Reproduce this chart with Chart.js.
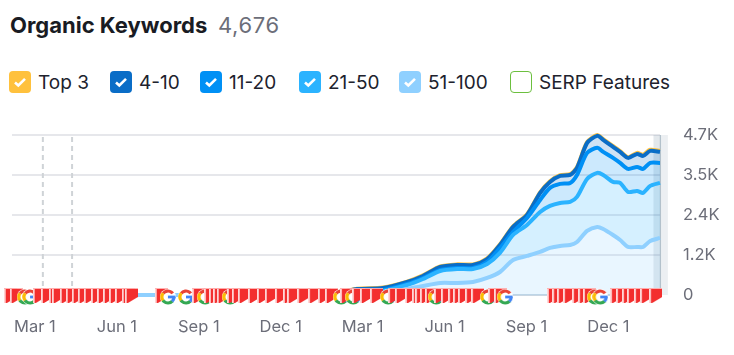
<!DOCTYPE html>
<html>
<head>
<meta charset="utf-8">
<title>Organic Keywords</title>
<script src="https://cdn.jsdelivr.net/npm/chart.js@4"></script>
<style>
    html, body { margin: 0; padding: 0; background: #fff; overflow: hidden; }
    body { width: 734px; height: 355px; position: relative; font-family: Inter, sans-serif; }
    canvas { position: absolute; left: 0; top: 0; }
    .titulo { position: absolute; left: 10px; top: 12px; font-size: 22px; line-height: 26px; font-weight: 700; color: #191b23; }
    .total { position: absolute; left: 218px; top: 12px; font-size: 22px; line-height: 26px; color: #6c6e79; letter-spacing: .6px; }
    .item { position: absolute; top: 71px; height: 22px; line-height: 24px; font-size: 19px; color: #20222d; white-space: nowrap; }
    .caixa { position: absolute; left: 0; top: 0; width: 22px; height: 22px; border-radius: 4px; box-sizing: border-box; }
    .caixa svg { position: absolute; left: 4px; top: 5px; }
    .item span { position: absolute; left: 29px; top: 0; }
</style>
</head>
<body>
<div class="titulo">Organic Keywords</div>
<div class="total">4,676</div>
<div id="legenda"></div>
<canvas id="grafico" width="734" height="355"></canvas>

<script>
// months counted from the first Mar 1
const months = [-0.84, 3.11, 7.14, 11.17, 11.79, 12.75, 13.63, 14.21, 14.84, 15.46, 16.04, 16.56, 17.03, 17.51, 18.02, 18.5, 18.86, 19.23, 19.6, 19.85, 20.22, 20.59, 20.81, 21.17, 21.43, 21.72, 22.05, 22.27, 22.53, 22.89];

const top3 = [0, 0, 0, 95, 185, 220, 395, 575, 840, 900, 900, 1075, 1490, 2015, 2370, 3015, 3340, 3520, 3550, 3755, 4490, 4700, 4580, 4375, 4225, 4050, 4175, 4125, 4265, 4235];
const pos4to10 = [0, 0, 0, 88, 176, 206, 382, 559, 823, 882, 882, 1058, 1470, 2000, 2352, 2999, 3322, 3499, 3528, 3734, 4469, 4675, 4557, 4351, 4204, 4028, 4145, 4087, 4234, 4204];
const pos11to20 = [0, 0, 0, 59, 147, 147, 323, 500, 735, 794, 794, 970, 1382, 1852, 2264, 2793, 3146, 3263, 3293, 3528, 4175, 4322, 4204, 4028, 3881, 3704, 3763, 3704, 3881, 3881];
const pos21to50 = [0, 0, 0, 59, 118, 118, 294, 470, 706, 764, 764, 911, 1235, 1764, 2058, 2440, 2617, 2705, 2734, 2881, 3410, 3587, 3528, 3322, 3293, 3028, 3058, 2999, 3205, 3293];
const pos51to100 = [0, 0, 0, 29, 29, 59, 176, 265, 353, 353, 382, 500, 676, 1029, 1147, 1264, 1382, 1441, 1470, 1558, 1882, 1999, 1940, 1764, 1617, 1411, 1411, 1411, 1588, 1676];

const yTicks = [0, 1175, 2350, 3525, 4700];
const yLabels = ['0', '1.2K', '2.4K', '3.5K', '4.7K'];
const xTicks = [0, 3, 6, 9, 12, 15, 18, 21];
const xLabels = ['Mar 1', 'Jun 1', 'Sep 1', 'Dec 1', 'Mar 1', 'Jun 1', 'Sep 1', 'Dec 1'];

const notes = [0.29, 1.36];
const partialData = [22.78];

// SERP markers in drawing order, f = flag, g = google update
const serpMonths = [-0.90, -0.68, -0.37, -0.18, 0.16, 0.46, 0.75, 0.86, 1.15, 1.37, 1.59, 1.81, 2.03, 2.29, 2.51, 2.73, 2.95, 3.17, 3.42, 3.53, 4.63, 4.87, 5.53, 5.99, 6.23, 6.43, 6.61, 6.76, 6.90, 7.14, 7.27, 7.45, 7.67, 8.04, 8.37, 8.66, 9.03, 9.32, 9.47, 9.84, 10.24, 10.60, 10.86, 11.21, 11.41, 11.65, 11.85, 12.14, 12.51, 12.93, 13.17, 13.42, 13.79, 14.05, 14.16, 14.34, 14.52, 14.69, 14.85, 15.11, 15.37, 15.55, 15.73, 15.99, 16.21, 16.59, 16.83, 17.05, 17.22, 18.99, 19.18, 19.36, 19.58, 19.91, 20.13, 20.31, 20.51, 20.70, 21.30, 21.52, 21.74, 21.92, 22.18, 22.40, 22.73];
const serpKinds = ['f', 'f', 'g', 'g', 'f', 'f', 'f', 'f', 'f', 'f', 'f', 'f', 'f', 'f', 'f', 'f', 'f', 'f', 'f', 'f', 'f', 'g', 'g', 'f', 'g', 'f', 'f', 'f', 'f', 'g', 'f', 'f', 'f', 'f', 'f', 'f', 'f', 'f', 'f', 'f', 'f', 'f', 'f', 'g', 'f', 'g', 'f', 'f', 'f', 'g', 'f', 'f', 'f', 'f', 'f', 'f', 'f', 'g', 'f', 'f', 'f', 'f', 'f', 'f', 'f', 'g', 'f', 'f', 'g', 'f', 'f', 'f', 'f', 'f', 'f', 'f', 'g', 'g', 'f', 'f', 'f', 'f', 'f', 'f', 'f'];

const legendNames = ['Top 3', '4-10', '11-20', '21-50', '51-100', 'SERP Features'];
const legendColors = ['#ffc13d', '#0a6dc7', '#0090f5', '#2bb3ff', '#8fd0ff', null];
const legendLeft = [9, 110, 200, 299, 399, 510];

// LEGENDA
const legenda = document.getElementById('legenda');
legendNames.forEach((nome, i) => {
    const div = document.createElement('div');
    div.className = 'item';
    div.style.left = legendLeft[i] + 'px';
    const cor = legendColors[i];
    const caixa = cor
        ? `<div class="caixa" style="background:${cor}"><svg width="14" height="12" viewBox="0 0 14 12"><path d="M2 6.5l3.3 3L12 2.8" fill="none" stroke="#fff" stroke-width="2.6"/></svg></div>`
        : `<div class="caixa" style="border:1.2px solid #6cbf3f"></div>`;
    div.innerHTML = caixa + `<span>${nome}</span>`;
    legenda.appendChild(div);
});

// SERP icons
function flagIcon() {
    const c = document.createElement('canvas');
    c.width = 13; c.height = 16;
    const g = c.getContext('2d');
    g.beginPath();
    g.moveTo(0, 2); g.lineTo(13, 2); g.lineTo(13, 10); g.lineTo(3, 16); g.lineTo(0, 16);
    g.closePath();
    g.fillStyle = '#f32e2e';
    g.fill();
    g.fillStyle = 'rgba(255,170,170,.9)';
    g.fillRect(0, 1, 13, 1);
    g.fillStyle = 'rgba(255,225,225,.95)';
    g.fillRect(0, 2, 1.8, 14);
    return c;
}

function googleIcon() {
    const c = document.createElement('canvas');
    c.width = 16; c.height = 20;
    const g = c.getContext('2d');
    const cx = 8, cy = 12, r = 6;
    g.beginPath(); g.arc(cx, cy, 8, 0, Math.PI * 2); g.fillStyle = '#fff'; g.fill();
    g.lineWidth = 3.2;
    const arcs = [['#ea4335', -2.5, -0.65], ['#fbbc05', 2.5, 3.8], ['#34a853', 0.75, 2.55], ['#4285f4', 0, 0.8]];
    arcs.forEach(a => {
        g.beginPath(); g.strokeStyle = a[0]; g.arc(cx, cy, r, a[1], a[2]); g.stroke();
    });
    g.fillStyle = '#4285f4';
    g.fillRect(cx, cy - 1.4, 7.5, 2.8);
    return c;
}

const iconeFlag = flagIcon();
const iconeGoogle = googleIcon();

const pares = (valores) => months.map((m, i) => ({ x: m, y: valores[i] }));
const vertical = (m) => [{ x: m, y: 0 }, { x: m, y: 4700 }];

function linha(label, valores, cor, fundo, alvo) {
    return {
        label: label,
        data: pares(valores),
        borderColor: cor,
        borderWidth: 4,
        backgroundColor: fundo,
        fill: alvo,
        tension: 0.25,
        pointRadius: 0,
        borderJoinStyle: 'round',
        clip: false
    };
}

// index 0 is painted last
new Chart(document.getElementById('grafico'), {
    type: 'line',
    data: {
        datasets: [
            {
                label: 'SERP Features',
                data: serpMonths.map(m => ({ x: m, y: 0 })),
                showLine: false,
                clip: false,
                pointRadius: 14,
                pointStyle: ctx => serpKinds[ctx.dataIndex] === 'g' ? iconeGoogle : iconeFlag
            },
            linha('51-100', pos51to100, '#8fd0ff', 'rgba(143,208,255,.2)', 'origin'),
            linha('21-50', pos21to50, '#2bb3ff', 'rgba(43,179,255,.2)', { target: 1 }),
            linha('11-20', pos11to20, '#0090f5', 'rgba(0,144,245,.2)', { target: 2 }),
            linha('4-10', pos4to10, '#0a6dc7', 'rgba(10,109,199,.2)', { target: 3 }),
            linha('Top 3', top3, '#ffc13d', 'transparent', false),
            {
                label: 'partial',
                data: vertical(partialData[0]),
                borderColor: 'rgba(70,100,125,.15)',
                borderWidth: 7,
                pointRadius: 0,
                clip: false
            },
            {
                label: 'edge',
                data: vertical(22.91),
                borderColor: '#bcc9d2',
                borderWidth: 1.5,
                pointRadius: 0,
                clip: false
            },
            {
                label: 'edge right',
                data: vertical(23.07),
                borderColor: 'rgba(70,100,125,.1)',
                borderWidth: 6,
                pointRadius: 0,
                clip: false
            },
            {
                label: 'note 1',
                data: vertical(notes[0]),
                borderColor: '#cfd3d7',
                borderWidth: 2,
                borderDash: [5, 4],
                pointRadius: 0
            },
            {
                label: 'note 2',
                data: vertical(notes[1]),
                borderColor: '#cfd3d7',
                borderWidth: 2,
                borderDash: [5, 4],
                pointRadius: 0
            }
        ]
    },
    options: {
        responsive: false,
        animation: false,
        layout: { autoPadding: false, padding: { left: 12, top: 135, right: 0, bottom: 0 } },
        plugins: { legend: { display: false }, title: { display: false }, tooltip: { enabled: false } },
        scales: {
            x: {
                type: 'linear',
                min: -0.84,
                max: 22.89,
                afterBuildTicks: scale => { scale.ticks = xTicks.map(v => ({ value: v })); },
                afterFit: scale => {
                    scale.height = 60;
                    scale.paddingLeft = 0;
                    scale.paddingRight = 0;
                },
                grid: { display: false, drawTicks: false },
                border: { display: true, color: '#c9d6e2', width: 2 },
                ticks: {
                    padding: 22,
                    autoSkip: false,
                    maxRotation: 0,
                    color: '#6c6e79',
                    font: { family: 'Inter', size: 16.5 },
                    callback: (v, i) => xLabels[i]
                }
            },
            y: {
                type: 'linear',
                position: 'right',
                min: 0,
                max: 4700,
                afterBuildTicks: scale => { scale.ticks = yTicks.map(v => ({ value: v })); },
                afterFit: scale => { scale.width = 74; },
                grid: { color: '#e6e7eb', lineWidth: 2, drawTicks: false },
                border: { display: false },
                ticks: {
                    padding: 23,
                    color: '#6c6e79',
                    font: { family: 'Inter', size: 16.5 },
                    callback: (v, i) => yLabels[i]
                }
            }
        }
    }
});
</script>
</body>
</html>
